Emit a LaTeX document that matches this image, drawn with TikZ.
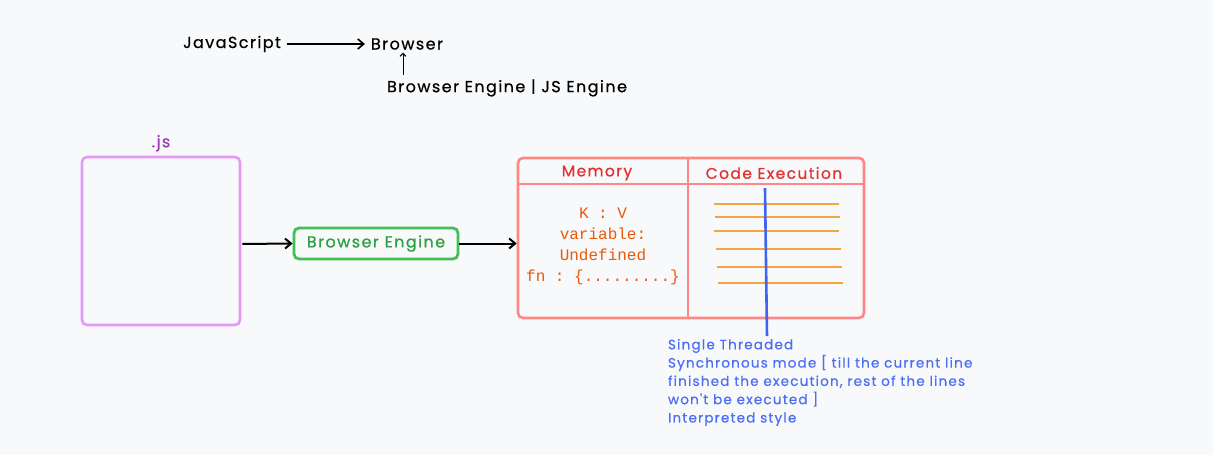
\documentclass[tikz,border=0pt]{standalone}
\usepackage{fontspec}
\setmainfont{Poppins}
\setmonofont{Liberation Mono}
\newfontfamily\sketchfont{Poppins}[LetterSpace=9,FakeBold=0.6]
\usepackage[dvipsnames]{xcolor}
\usetikzlibrary{positioning,arrows.meta}

\definecolor{paper}{HTML}{F8F9FA}
\definecolor{jsviolet}{HTML}{E599F7}
\definecolor{jstext}{HTML}{9C36B5}
\definecolor{enggreen}{HTML}{40C057}
\definecolor{engtext}{HTML}{2F9E44}
\definecolor{runred}{HTML}{FF8787}
\definecolor{runtext}{HTML}{E03131}
\definecolor{memorange}{HTML}{E8590C}
\definecolor{lineorange}{HTML}{F5A442}
\definecolor{threadblue}{HTML}{4263EB}
\definecolor{notesblue}{HTML}{4C6EF5}

\begin{document}
\begin{tikzpicture}[x=1pt,y=-1pt,->,>={Straight Barb[length=6pt,width=10pt]},line width=2pt,
    title node/.style={inner sep=2pt,font=\sketchfont\fontsize{16}{18}\selectfont},
    file box/.style={draw=jsviolet,line width=2.6pt,rounded corners=5pt,minimum width=158pt,minimum height=168pt},
    engine box/.style={draw=enggreen,line width=2.8pt,rounded corners=5pt,minimum width=164pt,minimum height=31pt,text=engtext,font=\sketchfont\fontsize{16}{18}\selectfont},
    run box/.style={draw=runred,line width=2.6pt,rounded corners=5pt,minimum width=346pt,minimum height=160pt},
    head node/.style={text=runtext,font=\sketchfont\fontsize{15.5}{18}\selectfont},
    exec line/.style={-,draw=lineorange,line width=2.4pt},
    thread line/.style={-,draw=threadblue,line width=2.6pt}]
    \useasboundingbox[fill=paper] (0,0) rectangle (1213,455);

    % top: language -> browser
    \node[title node] (js) at (232,44) {JavaScript};
    \node[title node] (browser) at (407,44) {Browser};
    \node[title node] (engines) at (507,88) {Browser Engine | JS Engine};
    \draw[line width=1.6pt,shorten <=3pt,shorten >=3pt] (js) -- (browser);
    \draw[line width=1pt,>={Straight Barb[length=3pt,width=6pt]},shorten <=1pt] (engines.north -| 403,0) -- (browser.south -| 403,0);

    % source file
    \node[file box] (src) at (161,241) {};
    \node[text=jstext,font=\sketchfont\fontsize{16}{18}\selectfont] (ext) [above=0pt of src] {.js};

    \node[engine box] (engine) at (376,243.5) {Browser Engine};

    % memory | code execution
    \node[run box] (ctx) at (691,238) {};
    \draw[-,draw=runred,line width=2.6pt] (ctx.west |- 0,184) -- (ctx.east |- 0,184);
    \draw[-,draw=runred,line width=2.6pt] (688,0 |- ctx.north) -- (688,0 |- ctx.south);
    \node[head node] (mem) at (597,173) {Memory};
    \node[head node] (exec) at (774,173) {Code Execution};
    \node[text=memorange,align=center,font=\ttfamily\fontsize{16}{21}\selectfont] (kv) at (603,246) {K : V\\variable:\\Undefined\\fn : \{.........\}};

    \foreach \y/\a/\b in {204/714/839,217/715/840,231/714/839,249/716/841,267/717/842,283/718/843}
        \draw[exec line] (\a,\y) -- (\b,\y);

    \draw[shorten <=1pt] (src.east |- 0,244) -- (engine.west);
    \draw (engine) -- (ctx.west |- engine);

    % single thread
    \coordinate (threadtop) at (765,188);
    \coordinate (threadend) at (767,336);
    \draw[thread line] (threadtop) -- (threadend);
    \node[anchor=north west,inner sep=0pt,align=left,text=notesblue,font=\sketchfont\fontsize{13.5}{18.3}\selectfont] (notes) at (667,338)
        {Single Threaded\\Synchronous mode [ till the current line\\finished the execution, rest of the lines\\won't be executed ]\\Interpreted style};
\end{tikzpicture}
\end{document}
